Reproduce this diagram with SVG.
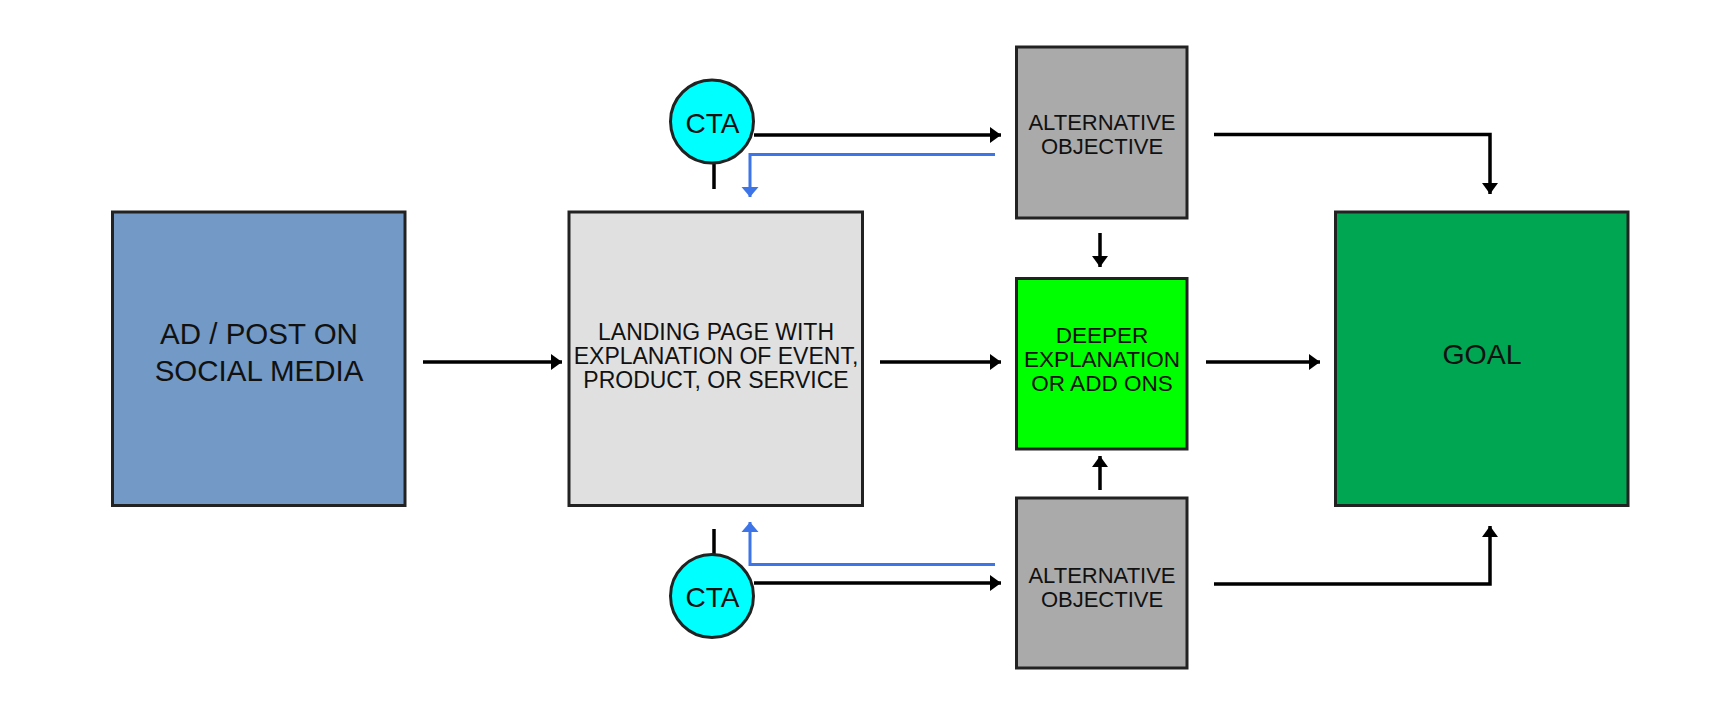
<svg xmlns="http://www.w3.org/2000/svg" width="1712" height="717" viewBox="0 0 1712 717">
<style>
.box{stroke:#222;stroke-width:3}
.t{font-family:"Liberation Sans",Arial,sans-serif;fill:#111;text-anchor:middle}
.c{fill:none;stroke:#000;stroke-width:3.5}
.b{fill:none;stroke:#3d74e8;stroke-width:3}
</style>
<defs>
<marker id="ah" markerUnits="userSpaceOnUse" markerWidth="13" markerHeight="18" refX="11" refY="9" orient="auto">
<path d="M0,1 L11,9 L0,17 z" fill="#000"/>
</marker>
<marker id="ahb" markerUnits="userSpaceOnUse" markerWidth="13" markerHeight="19" refX="10" refY="9.5" orient="auto">
<path d="M0,1 L10,9.5 L0,18 z" fill="#3d74e8"/>
</marker>
</defs>
<rect width="1712" height="717" fill="#fff"/>
<g id="connectors">
<path class="c" d="M423,362 H562" marker-end="url(#ah)"/>
<path class="c" d="M880,362 H1001" marker-end="url(#ah)"/>
<path class="c" d="M1206,362 H1320" marker-end="url(#ah)"/>
<path class="c" d="M754,135 H1001" marker-end="url(#ah)"/>
<path class="c" d="M754,583 H1001" marker-end="url(#ah)"/>
<path class="c" d="M714,163 V189"/>
<path class="c" d="M714,529 V554"/>
<path class="c" d="M1100,233 V267" marker-end="url(#ah)"/>
<path class="c" d="M1100,490 V456" marker-end="url(#ah)"/>
<path class="c" d="M1214,134.5 H1490 V194" marker-end="url(#ah)"/>
<path class="c" d="M1214,584 H1490 V526" marker-end="url(#ah)"/>
<path class="b" d="M995,154.5 H750 V197" marker-end="url(#ahb)"/>
<path class="b" d="M995,564.5 H750 V522" marker-end="url(#ahb)"/>
</g>
<g id="ad">
<rect class="box" x="112.5" y="212" width="292.5" height="293.5" fill="#7399c6"/>
<text class="t" x="259" y="343.5" font-size="29.5">AD / POST ON</text>
<text class="t" x="259" y="380.5" font-size="29.5">SOCIAL MEDIA</text>
</g>
<g id="landing">
<rect class="box" x="569" y="212" width="293.5" height="293.5" fill="#e0e0e0"/>
<text class="t" x="716" y="340" font-size="23">LANDING PAGE WITH</text>
<text class="t" x="716" y="364" font-size="23">EXPLANATION OF EVENT,</text>
<text class="t" x="716" y="388" font-size="23">PRODUCT, OR SERVICE</text>
</g>
<g id="cta-top">
<circle cx="712" cy="121.5" r="41.5" fill="#00ffff" stroke="#222" stroke-width="3"/>
<text class="t" x="712.5" y="132.5" font-size="28">CTA</text>
</g>
<g id="cta-bottom">
<circle cx="712" cy="596" r="41.5" fill="#00ffff" stroke="#222" stroke-width="3"/>
<text class="t" x="712.5" y="607" font-size="28">CTA</text>
</g>
<g id="alt-top">
<rect class="box" x="1016.5" y="47" width="170.5" height="171" fill="#aaaaaa"/>
<text class="t" x="1102" y="129.5" font-size="22">ALTERNATIVE</text>
<text class="t" x="1102" y="153.5" font-size="22">OBJECTIVE</text>
</g>
<g id="deeper">
<rect class="box" x="1016.5" y="278.5" width="170.5" height="170.5" fill="#00ff00"/>
<text class="t" x="1102" y="342.5" font-size="22.5">DEEPER</text>
<text class="t" x="1102" y="366.5" font-size="22.5">EXPLANATION</text>
<text class="t" x="1102" y="390.5" font-size="22.5">OR ADD ONS</text>
</g>
<g id="alt-bottom">
<rect class="box" x="1016.5" y="498" width="170.5" height="170" fill="#aaaaaa"/>
<text class="t" x="1102" y="582.5" font-size="22">ALTERNATIVE</text>
<text class="t" x="1102" y="606.5" font-size="22">OBJECTIVE</text>
</g>
<g id="goal">
<rect class="box" x="1335.5" y="212" width="292.5" height="293.5" fill="#00a651"/>
<text class="t" x="1482" y="364" font-size="28.5">GOAL</text>
</g>
</svg>
